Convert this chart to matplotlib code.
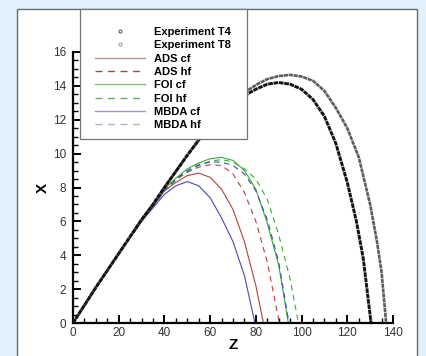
import matplotlib
matplotlib.use("Agg")
import matplotlib.pyplot as plt
from matplotlib.lines import Line2D
from matplotlib.patches import Rectangle
from matplotlib.ticker import MultipleLocator

plt.rcParams['font.family'] = ['Liberation Sans', 'DejaVu Sans']

# ---------------- data ----------------
exp_t4_z = [0, 5, 10, 15, 20, 25, 30, 35, 40, 45, 50, 55, 60, 65, 70, 76, 80, 85, 90, 95,
            100, 105, 110, 115, 120, 124, 127, 130.4]
exp_t4_x = [0, 1.05, 2.1, 3.1, 4.1, 5.1, 6.1, 7.0, 8.0, 8.95, 9.9, 10.8, 11.7, 12.45, 13.0,
            13.5, 13.8, 14.1, 14.2, 14.1, 13.8, 13.2, 12.2, 10.6, 8.3, 6.0, 3.8, 0]

exp_t8_z = [0, 5, 10, 15, 20, 25, 30, 35, 40, 45, 50, 55, 60, 65, 70, 76, 80, 85, 90, 95,
            100, 105, 110, 115, 120, 125, 130, 133, 135, 137]
exp_t8_x = [0, 1.05, 2.1, 3.1, 4.1, 5.1, 6.1, 7.0, 8.0, 8.95, 9.9, 10.8, 11.7, 12.5, 13.1,
            13.7, 14.05, 14.4, 14.58, 14.65, 14.55, 14.3, 13.7, 12.7, 11.5, 9.8, 7.0, 4.8, 3.0, 0]

ads_cf_z = [0, 10, 20, 30, 40, 45, 50, 55, 60, 65, 70, 75, 80, 83.3]
ads_cf_x = [0, 2.1, 4.1, 6.0, 7.8, 8.3, 8.7, 8.85, 8.6, 7.9, 6.7, 4.8, 2.2, 0]

ads_hf_z = [0, 10, 20, 30, 40, 45, 50, 55, 60, 65, 70, 75, 80, 85, 90.3]
ads_hf_x = [0, 2.1, 4.1, 6.0, 7.9, 8.5, 8.9, 9.2, 9.35, 9.3, 8.8, 7.7, 6.0, 3.6, 0]

foi_cf_z = [0, 10, 20, 30, 40, 45, 50, 55, 60, 65, 70, 75, 80, 85, 90, 94.2]
foi_cf_x = [0, 2.1, 4.1, 6.0, 7.9, 8.55, 9.1, 9.45, 9.7, 9.78, 9.6, 9.0, 7.9, 5.9, 3.4, 0]

foi_hf_z = [0, 10, 20, 30, 40, 45, 50, 55, 60, 65, 70, 75, 80, 85, 90, 95, 98.6]
foi_hf_x = [0, 2.1, 4.1, 6.0, 7.8, 8.4, 8.95, 9.3, 9.55, 9.65, 9.5, 9.1, 8.5, 7.3, 5.2, 2.6, 0]

mbda_cf_z = [0, 10, 20, 30, 40, 45, 50, 55, 60, 65, 70, 75, 79.6]
mbda_cf_x = [0, 2.1, 4.1, 6.0, 7.6, 8.1, 8.35, 8.1, 7.4, 6.2, 4.8, 2.8, 0]

mbda_hf_z = [0, 10, 20, 30, 40, 45, 50, 55, 60, 65, 70, 75, 80, 85, 90, 94.5]
mbda_hf_x = [0, 2.1, 4.1, 6.0, 7.8, 8.5, 9.0, 9.35, 9.5, 9.5, 9.3, 8.8, 7.8, 6.1, 3.6, 0]

labels = ['Experiment T4', 'Experiment T8', 'ADS cf', 'ADS hf', 'FOI cf', 'FOI hf',
          'MBDA cf', 'MBDA hf']
x_ticks = [0, 20, 40, 60, 80, 100, 120, 140]
y_ticks = [0, 2, 4, 6, 8, 10, 12, 14, 16]

# ---------------- figure ----------------
W, H = 426, 356
fig = plt.figure(figsize=(W / 100, H / 100), dpi=100, facecolor='#e0f0fc')

def fx(px):
    return px / W

def fy(py):
    return 1 - py / H

# white panel
fig.patches.append(Rectangle((fx(17), fy(362)), fx(417) - fx(17), fy(9) - fy(362),
                             transform=fig.transFigure, facecolor='white',
                             edgecolor='#6a6a6a', linewidth=1.0, zorder=-5))

ax = fig.add_axes([fx(73), fy(323), fx(393) - fx(73), fy(52) - fy(323)])
ax.set_zorder(1)
ax.set_facecolor('none')

red = '#b84040'
green = '#33b033'
blue = '#4848b8'
dash = (0, (5, 4))

ax.plot(exp_t8_z, exp_t8_x, color='#5c5c5c', lw=1.9, ls=(0, (1.6, 0.25)), zorder=3)
ax.plot(exp_t4_z, exp_t4_x, color='#141414', lw=2.1, ls=(0, (1.6, 0.25)), zorder=3)
ax.plot(ads_cf_z, ads_cf_x, color=red, lw=0.8)
ax.plot(ads_hf_z, ads_hf_x, color=red, lw=0.8, ls=dash)
ax.plot(foi_cf_z, foi_cf_x, color=green, lw=0.8)
ax.plot(foi_hf_z, foi_hf_x, color=green, lw=0.8, ls=dash)
ax.plot(mbda_cf_z, mbda_cf_x, color=blue, lw=0.8)
ax.plot(mbda_hf_z, mbda_hf_x, color=blue, lw=0.8, ls=dash)

ax.set_xlim(0, 140)
ax.set_ylim(0, 16)
ax.set_xticks(x_ticks)
ax.set_yticks(y_ticks)
ax.xaxis.set_minor_locator(MultipleLocator(5))
ax.yaxis.set_minor_locator(MultipleLocator(0.5))
for s in ['top', 'right']:
    ax.spines[s].set_visible(False)
for s in ['left', 'bottom']:
    ax.spines[s].set_linewidth(1.6)
ax.tick_params(which='major', direction='in', length=6, width=1.4, labelsize=8.5,
               labelcolor='#333333', pad=3)
ax.tick_params(which='minor', direction='in', length=3.5, width=1.0)
ax.tick_params(axis='y', pad=5)
ax.set_xlabel('Z', fontsize=11, fontweight='bold', labelpad=-1)
ax.set_ylabel('X', fontsize=11, fontweight='bold', labelpad=2)

# legend frame (drawn above the axes so curves pass behind it)
fig.patches.append(Rectangle((fx(80), fy(139)), fx(247) - fx(80), fy(9) - fy(139),
                             transform=fig.transFigure, facecolor='white',
                             edgecolor='#777777', linewidth=0.9, zorder=5))

handles = [
    Line2D([], [], ls='none', marker='o', ms=2.2, mfc='white', mec='#333333', mew=0.6),
    Line2D([], [], ls='none', marker='o', ms=2.2, mfc='white', mec='#888888', mew=0.6),
    Line2D([], [], color='#c09090', lw=1.0),
    Line2D([], [], color='#a04850', lw=1.0, ls=dash),
    Line2D([], [], color='#80c880', lw=1.0),
    Line2D([], [], color='#60b060', lw=1.0, ls=dash),
    Line2D([], [], color='#9c9cc8', lw=1.0),
    Line2D([], [], color='#b0b0cc', lw=1.0, ls=dash),
]
leg = fig.legend(handles, labels, loc='upper left',
                 bbox_to_anchor=(fx(95), fy(27)), frameon=False, borderpad=0,
                 borderaxespad=0, handlelength=4.5, handletextpad=0.8,
                 labelspacing=0.3, prop={'size': 8, 'weight': 'bold'})
leg.set_zorder(6)

fig.savefig('out.png', dpi=100, facecolor=fig.get_facecolor())
